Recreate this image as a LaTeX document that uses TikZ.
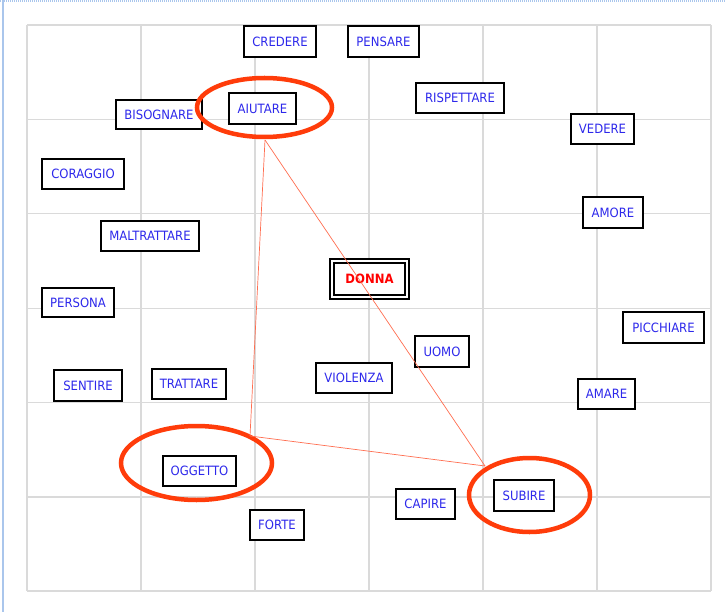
\documentclass[tikz,border=0pt]{standalone}
\usepackage{fontspec}
\setmainfont{DejaVu Sans}[FakeStretch=0.91]
\usetikzlibrary{shapes.geometric}
\definecolor{wordblue}{RGB}{45,40,235}
\definecolor{ringred}{RGB}{255,60,10}
\definecolor{linkred}{RGB}{255,110,80}
\definecolor{gridgray}{RGB}{218,218,218}
\definecolor{frameblue}{RGB}{170,198,236}
\tikzset{
  word/.style={draw=black, line width=2pt, fill=white, text=wordblue,
    font=\fontsize{12.8}{14}\selectfont, inner sep=0pt, anchor=center},
  ring/.style={ellipse, draw=ringred, line width=4.5pt, inner sep=0pt},
  link/.style={draw=linkred, line width=0.7pt},
  gridline/.style={draw=gridgray, line width=1.3pt},
}
\begin{document}
\begin{tikzpicture}[x=1pt,y=-1pt]
\useasboundingbox (0,0) rectangle (725,612);
\fill[white] (0,0) rectangle (725,612);
% frame
\draw[frameblue, line width=2pt] (2.5,0) -- (2.5,612);
\draw[frameblue, line width=2pt, dash pattern=on 1pt off 1pt] (0,1) -- (725,1);
% grid
\foreach \x in {27,141,255,369,483,597,711} \draw[gridline] (\x,25) -- (\x,591);
\foreach \y in {25,119.4,213.8,308.2,402.6,497,591} \draw[gridline] (27,\y) -- (711,\y);
% words
\node[word, minimum width=72pt, minimum height=31pt] (credere) at (280,41.5) {CREDERE};
\node[word, minimum width=71pt, minimum height=31pt] (pensare) at (383.5,41.5) {PENSARE};
\node[word, minimum width=86pt, minimum height=29pt] (bisognare) at (159,114.5) {BISOGNARE};
\node[word, minimum width=67pt, minimum height=31pt] (aiutare) at (262.5,108.5) {AIUTARE};
\node[word, minimum width=88pt, minimum height=30pt] (rispettare) at (460,98) {RISPETTARE};
\node[word, minimum width=63pt, minimum height=30pt] (vedere) at (602.5,129) {VEDERE};
\node[word, minimum width=82pt, minimum height=30pt] (coraggio) at (83,174) {CORAGGIO};
\node[word, minimum width=60pt, minimum height=31pt] (amore) at (613,212.5) {AMORE};
\node[word, minimum width=98pt, minimum height=30pt] (maltrattare) at (150,236) {MALTRATTARE};
\node[word, minimum width=72pt, minimum height=29pt] (persona) at (78,302.5) {PERSONA};
\node[word, minimum width=81pt, minimum height=31pt] (picchiare) at (663.5,327.5) {PICCHIARE};
\node[word, minimum width=54pt, minimum height=31pt] (uomo) at (442,351.5) {UOMO};
\node[word, minimum width=76pt, minimum height=30pt] (violenza) at (354,378) {VIOLENZA};
\node[word, minimum width=68pt, minimum height=31pt] (sentire) at (88,385.5) {SENTIRE};
\node[word, minimum width=74pt, minimum height=30pt] (trattare) at (189,384) {TRATTARE};
\node[word, minimum width=57pt, minimum height=30pt] (amare) at (606.5,394) {AMARE};
\node[word, minimum width=73pt, minimum height=30pt] (oggetto) at (199.5,471) {OGGETTO};
\node[word, minimum width=60pt, minimum height=31pt] (subire) at (524,495.5) {SUBIRE};
\node[word, minimum width=59pt, minimum height=30pt] (capire) at (425.5,504) {CAPIRE};
\node[word, minimum width=54pt, minimum height=30pt] (forte) at (277,525) {FORTE};
% central word, double frame
\node[draw=black, line width=2pt, fill=white, minimum width=79pt, minimum height=40pt, inner sep=0pt] (donnaout) at (369.5,279) {};
\node[draw=black, line width=2pt, minimum width=71pt, minimum height=32pt, inner sep=0pt, text=red,
  font=\fontsize{12.8}{14}\selectfont\bfseries] (donna) at (369.5,279) {DONNA};
% rings
\node[ring, minimum width=135pt, minimum height=59pt] (ringA) at (264.5,107.5) {};
\node[ring, minimum width=151pt, minimum height=74pt] (ringO) at (196.5,463) {};
\node[ring, minimum width=121pt, minimum height=74pt] (ringS) at (529.5,495) {};
% links
\coordinate (pA) at (265,140);
\coordinate (pO) at (250,436);
\coordinate (pS) at (485,466);
\draw[link] (pA) -- (pO);
\draw[link] (pO) -- (pS);
\draw[link] (pA) -- (pS);
\end{tikzpicture}
\end{document}
